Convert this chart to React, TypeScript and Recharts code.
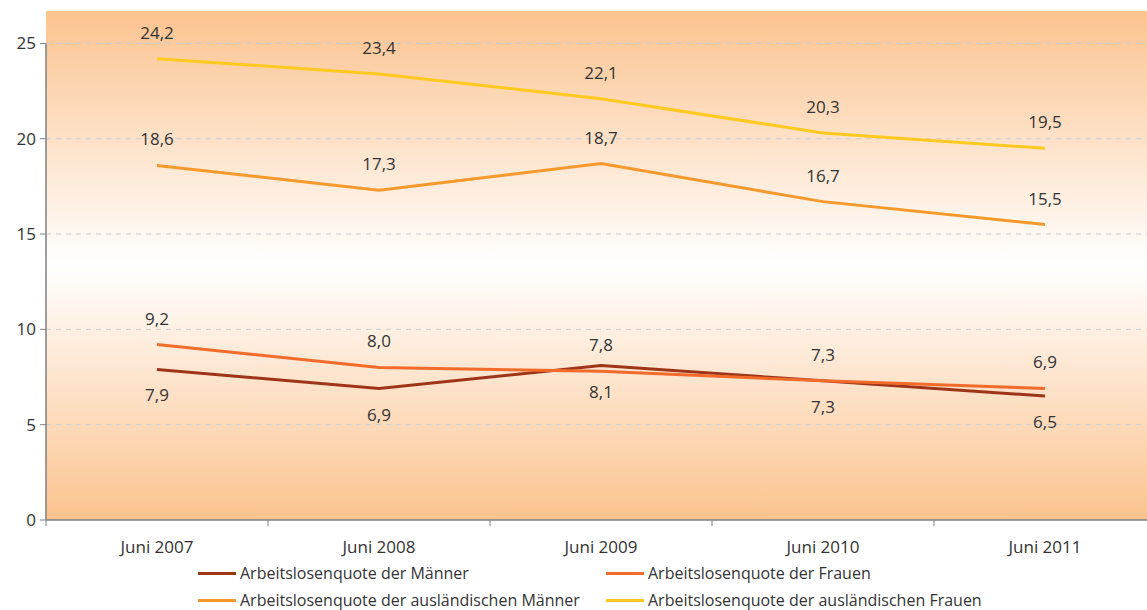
import React from "react";
import { LineChart, Line, XAxis, YAxis, CartesianGrid, LabelList, ReferenceLine } from "recharts";

const categories = ["Juni 2007", "Juni 2008", "Juni 2009", "Juni 2010", "Juni 2011"];
const maenner = [7.9, 6.9, 8.1, 7.3, 6.5];
const frauen = [9.2, 8.0, 7.8, 7.3, 6.9];
const auslMaenner = [18.6, 17.3, 18.7, 16.7, 15.5];
const auslFrauen = [24.2, 23.4, 22.1, 20.3, 19.5];
const yTicks = [0, 5, 10, 15, 20, 25];

const series = [
  { key: "m", name: "Arbeitslosenquote der Männer", color: "#9E3518", pos: "bottom" },
  { key: "f", name: "Arbeitslosenquote der Frauen", color: "#F26B2A", pos: "top" },
  { key: "am", name: "Arbeitslosenquote der ausländischen Männer", color: "#F6992C", pos: "top" },
  { key: "af", name: "Arbeitslosenquote der ausländischen Frauen", color: "#FFC91F", pos: "top" },
];

const data = categories.map((c, i) => ({
  cat: c,
  m: maenner[i],
  f: frauen[i],
  am: auslMaenner[i],
  af: auslFrauen[i],
}));

const FONT = "'Open Sans', 'Noto Sans', sans-serif";
const CHART_W = 1147;
const PLOT_LEFT = 46;
const PLOT_RIGHT = 1156; // plot runs a bit past the right edge, like the original
const band = (PLOT_RIGHT - PLOT_LEFT) / categories.length;

const fmt = (v: any) => String(v.toFixed(1)).replace(".", ",");

const XTick = (props: any) => {
  const { x, y, payload } = props;
  return (
    <g>
      <line x1={x - band / 2} x2={x - band / 2} y1={y} y2={y + 6} stroke="#7f7f7f" strokeWidth={1} />
      <text x={x} y={y + 33} textAnchor="middle" fill="#333" fontSize={17} fontFamily={FONT}>
        {payload.value}
      </text>
    </g>
  );
};

export default function App() {
  return (
    <div
      style={{
        position: "absolute",
        left: 0,
        top: 0,
        width: 1147,
        height: 610,
        overflow: "hidden",
        background: "#fff",
      }}
    >
      <LineChart
        width={CHART_W}
        height={560}
        data={data}
        margin={{ top: 11, right: CHART_W - PLOT_RIGHT, left: 1, bottom: 0 }}
      >
        <defs>
          <linearGradient id="bgGrad" x1="0" y1="0" x2="0" y2="1">
            <stop offset="0%" stopColor="#FBC38F" />
            <stop offset="50%" stopColor="#FFFFFF" />
            <stop offset="100%" stopColor="#FBC38F" />
          </linearGradient>
        </defs>
        <CartesianGrid vertical={false} horizontal={false} fill="url(#bgGrad)" fillOpacity={1} />
        {yTicks
          .filter((t) => t > 0)
          .map((t) => (
            <ReferenceLine key={t} y={t} stroke="#C9CDD3" strokeDasharray="5 5" />
          ))}
        <XAxis
          dataKey="cat"
          scale="band"
          height={40}
          tickSize={0}
          tickMargin={0}
          tickLine={false}
          axisLine={{ stroke: "#7f7f7f", strokeWidth: 1.5 }}
          tick={<XTick />}
          interval={0}
        />
        <XAxis xAxisId="edge" type="number" domain={[0, 1]} hide />
        <YAxis
          width={45}
          domain={[0, 26.7]}
          ticks={yTicks}
          allowDataOverflow
          axisLine={false}
          tickLine={{ stroke: "#7f7f7f" }}
          tickSize={6}
          tickMargin={4}
          tick={{ fill: "#333", fontSize: 17, fontFamily: FONT }}
        />
        <ReferenceLine
          xAxisId="edge"
          segment={[
            { x: 0, y: 0 },
            { x: 0, y: yTicks[yTicks.length - 1] },
          ]}
          stroke="#7f7f7f"
          strokeWidth={1.5}
        />
        {series.map((s) => (
          <Line
            key={s.key}
            dataKey={s.key}
            name={s.name}
            stroke={s.color}
            strokeWidth={3}
            dot={false}
            activeDot={false}
            isAnimationActive={false}
          >
            <LabelList
              dataKey={s.key}
              position={s.pos as any}
              offset={20}
              formatter={fmt}
              fill="#333"
              fontSize={17}
              fontFamily={FONT}
            />
          </Line>
        ))}
      </LineChart>
      <div
        style={{
          position: "absolute",
          left: 198,
          top: 562,
          display: "grid",
          gridTemplateColumns: "408px 420px",
          rowGap: 5,
          fontFamily: FONT,
          fontSize: 16,
          color: "#333",
        }}
      >
        {series.map((s) => (
          <div key={s.key} style={{ display: "flex", alignItems: "center", height: 22, whiteSpace: "nowrap" }}>
            <span style={{ display: "inline-block", width: 38, height: 3, background: s.color, marginRight: 4 }} />
            <span>{s.name}</span>
          </div>
        ))}
      </div>
    </div>
  );
}
